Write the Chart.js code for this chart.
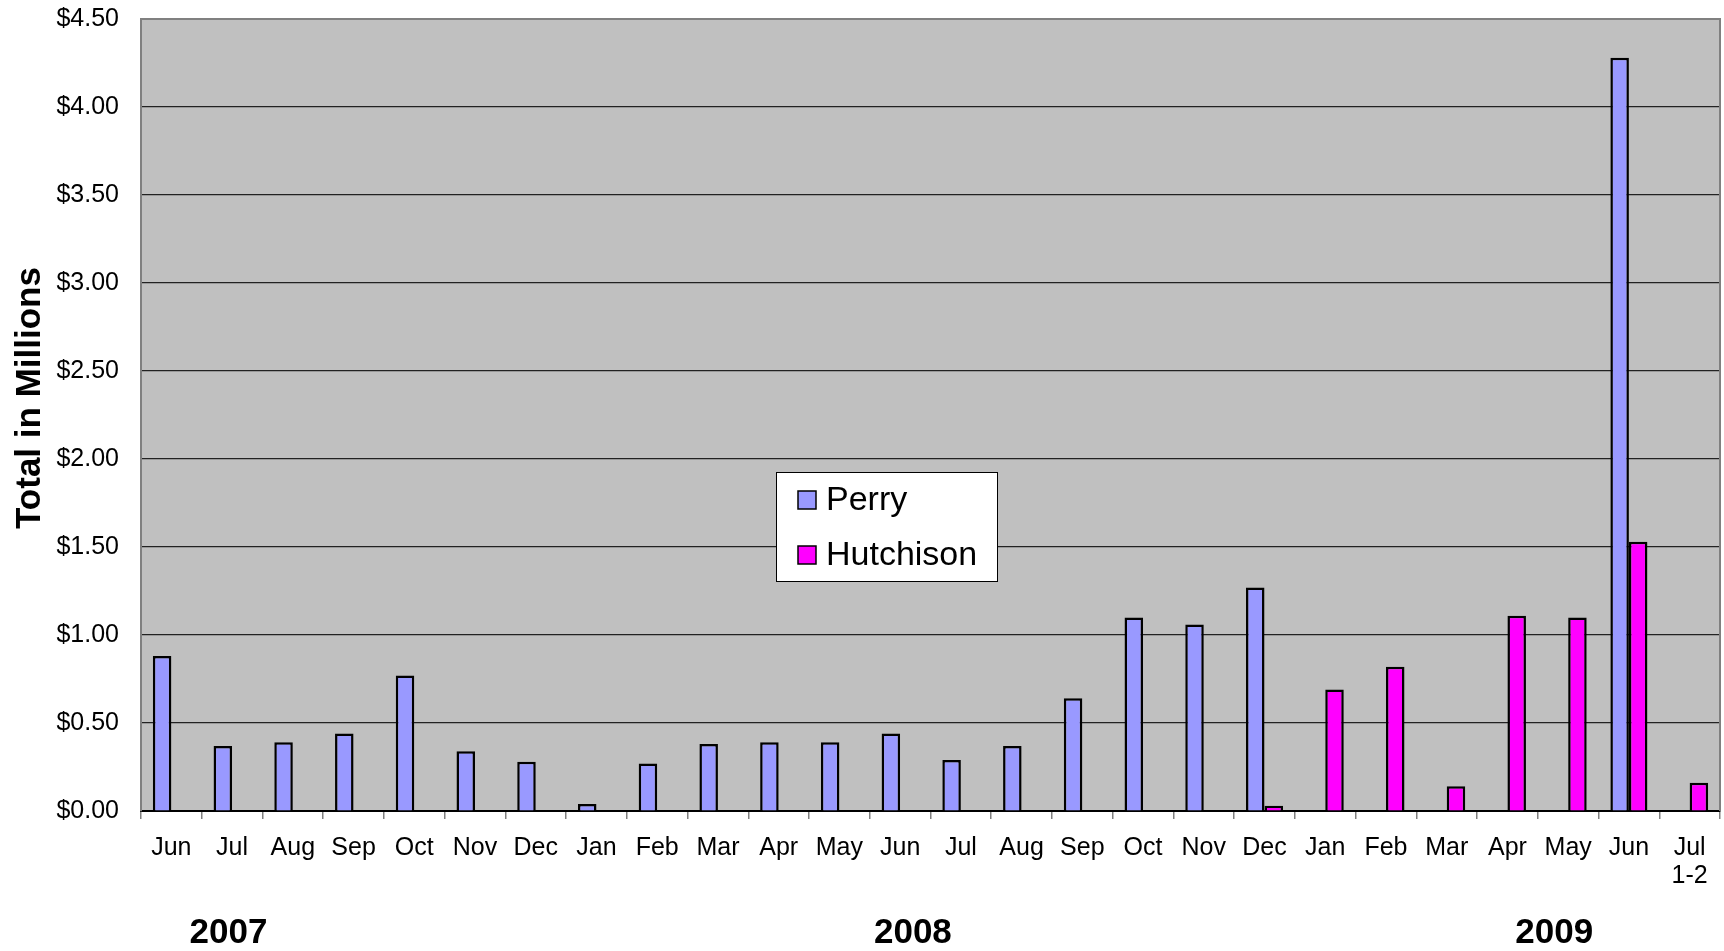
<!DOCTYPE html>
<html><head><meta charset="utf-8">
<script src="https://cdn.jsdelivr.net/npm/chart.js@4.4.1/dist/chart.umd.min.js"></script>
<style>html,body{margin:0;padding:0;background:#fff;}#wrap{width:1724px;height:951px;position:relative;}</style>
</head><body><div id="wrap"><canvas id="c" width="1724" height="951"></canvas></div>
<script>
const categories = ['Jun','Jul','Aug','Sep','Oct','Nov','Dec','Jan','Feb','Mar','Apr','May','Jun','Jul','Aug','Sep','Oct','Nov','Dec','Jan','Feb','Mar','Apr','May','Jun',['Jul','1-2']];
const perry = [0.88,0.37,0.39,0.44,0.77,0.34,0.28,0.04,0.27,0.38,0.39,0.39,0.44,0.29,0.37,0.64,1.10,1.06,1.27,null,null,null,null,null,4.28,null];
const hutchison = [null,null,null,null,null,null,null,null,null,null,null,null,null,null,null,null,null,null,0.03,0.69,0.82,0.14,1.11,1.10,1.53,0.16];
const seriesNames = ['Perry','Hutchison'];
const seriesColors = ['#9999FF','#FF00FF'];
const yearLabels = ['2007','2008','2009'];
const yearPositions = [0.94, 12.21, 22.77];
const yTicks = [0,0.5,1,1.5,2,2.5,3,3.5,4,4.5];
const yTitle = 'Total in Millions';

const FONT = "'Liberation Sans', Arial, sans-serif";

const plotBg = {
  id: 'plotBg',
  beforeDraw(chart) {
    const {ctx, chartArea: a} = chart;
    ctx.save();
    ctx.fillStyle = '#C0C0C0';
    ctx.fillRect(a.left, a.top, a.right - a.left, a.bottom - a.top);
    ctx.restore();
  },
  afterDraw(chart) {
    const {ctx, chartArea: a} = chart;
    ctx.save();
    ctx.strokeStyle = '#808080';
    ctx.lineWidth = 2;
    ctx.beginPath();
    ctx.moveTo(a.left, a.bottom);
    ctx.lineTo(a.left, a.top);
    ctx.lineTo(a.right, a.top);
    ctx.lineTo(a.right, a.bottom);
    ctx.stroke();
    // y axis title
    ctx.save();
    ctx.translate(30, 398);
    ctx.rotate(-Math.PI / 2);
    ctx.fillStyle = '#000';
    ctx.font = 'bold 35px ' + FONT;
    ctx.textAlign = 'center';
    ctx.textBaseline = 'middle';
    ctx.fillText(yTitle, 0, 0);
    ctx.restore();
    // year labels
    const xs = chart.scales.x;
    ctx.fillStyle = '#000';
    ctx.font = 'bold 35px ' + FONT;
    ctx.textAlign = 'center';
    ctx.textBaseline = 'middle';
    yearLabels.forEach((t, i) => {
      ctx.fillText(t, xs.getPixelForValue(yearPositions[i]), 933);
    });
    // legend
    const bx = 776.5, by = 472.5, bw = 221, bh = 109;
    ctx.fillStyle = '#fff';
    ctx.fillRect(bx, by, bw, bh);
    ctx.strokeStyle = '#000';
    ctx.lineWidth = 1;
    ctx.strokeRect(bx, by, bw, bh);
    ctx.font = '34px ' + FONT;
    ctx.textAlign = 'left';
    chart.data.datasets.forEach((ds, i) => {
      const cy = 500 + i * 55;
      ctx.fillStyle = ds.backgroundColor;
      ctx.fillRect(798, cy - 9, 18, 18);
      ctx.strokeStyle = '#000';
      ctx.lineWidth = 1.5;
      ctx.strokeRect(798, cy - 9, 18, 18);
      ctx.fillStyle = '#000';
      ctx.fillText(ds.label, 826, cy + 1);
    });
    ctx.restore();
  }
};

new Chart(document.getElementById('c'), {
  type: 'bar',
  data: {
    labels: categories,
    datasets: [
      {label: seriesNames[0], data: perry, backgroundColor: seriesColors[0], borderColor: '#000', borderWidth: 2.5, borderSkipped: 'bottom'},
      {label: seriesNames[1], data: hutchison, backgroundColor: seriesColors[1], borderColor: '#000', borderWidth: 2.5, borderSkipped: 'bottom'}
    ]
  },
  options: {
    responsive: false,
    devicePixelRatio: 1,
    animation: false,
    categoryPercentage: 0.61,
    barPercentage: 1.0,
    layout: {padding: {top: 19, right: 4, left: 0, bottom: 0}},
    plugins: {legend: {display: false}, tooltip: {enabled: false}},
    scales: {
      x: {
        offset: true,
        grid: {display: true, drawOnChartArea: false, drawTicks: true, tickLength: 8, color: '#808080', lineWidth: 1.5, offset: true},
        border: {display: true, color: '#000', width: 2},
        ticks: {color: '#000', font: {family: FONT, size: 25, lineHeight: 1.12}, padding: 15, maxRotation: 0, autoSkip: false},
        afterFit(s) { s.height = 140; s.paddingLeft = 0; s.paddingRight = 0; }
      },
      y: {
        min: 0, max: 4.5,
        afterBuildTicks(s) { s.ticks = yTicks.map(v => ({value: v})); },
        grid: {color: '#222', lineWidth: 1.2, drawTicks: false},
        border: {display: true, color: '#808080', width: 2},
        ticks: {color: '#000', font: {family: FONT, size: 25}, padding: 22, callback: v => '$' + Number(v).toFixed(2)},
        title: {display: false},
        afterFit(s) { s.width = 141; s.paddingTop = 0; s.paddingBottom = 0; }
      }
    }
  },
  plugins: [plotBg]
});
</script></body></html>
